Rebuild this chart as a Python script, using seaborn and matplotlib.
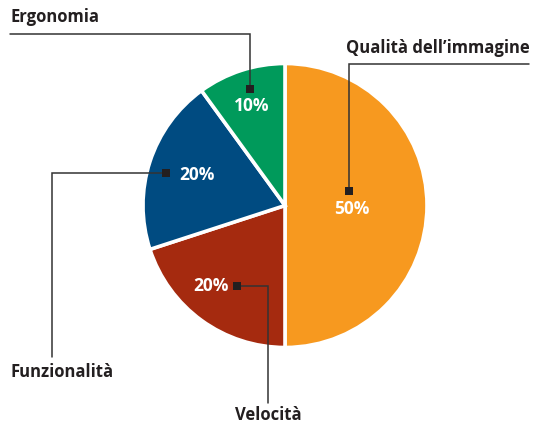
import matplotlib
matplotlib.use('Agg')
import matplotlib.pyplot as plt
import seaborn as sns

# data
categories = ['Qualità dell\u2019immagine', 'Velocità', 'Funzionalità', 'Ergonomia']
values = [50, 20, 20, 10]
colors = ['#F7991F', '#A52A0F', '#004B81', '#009A5B']

# layout in pixels (y goes down)
center = (285, 205.5)
radius = 142
pct_pos = [(352, 209), (211, 286), (197, 175), (252, 106)]
# leader lines: marker -> corner -> end, then label position / alignment
leaders = [
    [(349, 191), (349, 64), (529, 64)],
    [(237, 286), (268, 286), (268, 403)],
    [(166, 173), (52, 173), (52, 357)],
    [(250, 89), (250, 34), (10, 34)],
]
label_pos = [(530, 48, 'right'), (268, 415, 'center'), (10, 372, 'left'), (10, 17, 'left')]

sns.set_theme(style='white')
plt.rcParams['font.family'] = ['Open Sans', 'DejaVu Sans']

fig = plt.figure(figsize=(5.38, 4.25), dpi=100)
ax = fig.add_axes([0, 0, 1, 1])
ax.invert_yaxis()

ax.pie(values, colors=colors, startangle=-90, counterclock=True,
       center=center, radius=radius, frame=True,
       wedgeprops=dict(edgecolor='white', linewidth=2.6))

ax.set_xlim(0, 538)
ax.set_ylim(425, 0)
ax.set_aspect('equal')
ax.set_axis_off()

dark = '#231F20'
for i, cat in enumerate(categories):
    px, py = pct_pos[i]
    ax.text(px, py, f'{values[i]}%', color='white', fontsize=12.5,
            fontweight='bold', ha='center', va='center')
    pts = leaders[i]
    ax.plot([p[0] for p in pts], [p[1] for p in pts], color='#333333', lw=1.1,
            solid_joinstyle='miter')
    ax.plot(pts[0][0], pts[0][1], marker='s', ms=5.5, color=dark, mew=0)
    lx, ly, ha = label_pos[i]
    ax.text(lx, ly, cat, color=dark, fontsize=12, fontweight='bold',
            ha=ha, va='center')

fig.savefig('out.png', dpi=100, facecolor='white')
